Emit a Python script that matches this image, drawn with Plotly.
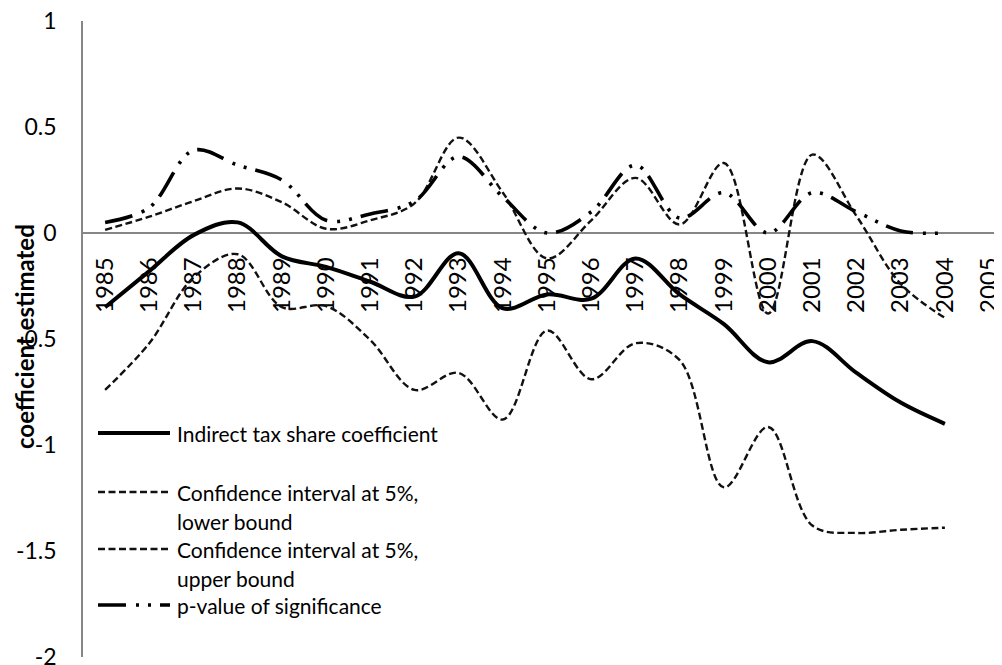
import plotly.graph_objects as go

# ---------------- data ----------------
years = ['1985', '1986', '1987', '1988', '1989', '1990', '1991', '1992', '1993', '1994',
         '1995', '1996', '1997', '1998', '1999', '2000', '2001', '2002', '2003', '2004', '2005']

coef = [-0.35, -0.18, -0.01, 0.05, -0.11, -0.16, -0.23, -0.30, -0.095, -0.355,
        -0.29, -0.31, -0.12, -0.29, -0.43, -0.61, -0.51, -0.66, -0.80, -0.90]

ci_lower = [-0.74, -0.52, -0.21, -0.10, -0.35, -0.345, -0.505, -0.74, -0.66, -0.88,
            -0.46, -0.69, -0.52, -0.60, -1.20, -0.915, -1.38, -1.415, -1.40, -1.39]

ci_upper = [0.015, 0.077, 0.15, 0.21, 0.145, 0.02, 0.06, 0.14, 0.45, 0.19,
            -0.12, 0.06, 0.26, 0.04, 0.33, -0.38, 0.37, 0.08, -0.24, -0.40]

p_value = [0.05, 0.12, 0.39, 0.32, 0.25, 0.06, 0.09, 0.15, 0.36, 0.17,
           0.0, 0.10, 0.32, 0.07, 0.19, 0.0, 0.19, 0.10, 0.01, 0.0]

y_ticks = [1, 0.5, 0, -0.5, -1, -1.5, -2]
y_tick_labels = ['1', '0.5', '0', '-0.5', '-1', '-1.5', '-2']

series_names = ['Indirect tax share coefficient',
                'Confidence interval at 5%,<br>lower bound',
                'Confidence interval at 5%,<br>upper bound',
                'p-value of significance']

# ---------------- layout constants ----------------
OFF = 8                      # browser body margin
W, H = 1002 - OFF, 665 - OFF
L, R, T, B = 83 - OFF, 1002 - OFF, 21 - OFF, 657 - OFF
FONT = 'Lato'
AXIS_GREY = '#868686'
Y_MIN, Y_MAX = -2, 1

def fx(px):  # page pixel -> paper x
    return (px - OFF - L) / (R - L)

def fy(py):  # page pixel -> paper y
    return (B - (py - OFF)) / (B - T)

styles = [
    dict(color='#000000', width=4, dash='solid'),
    dict(color='#111111', width=2.4, dash='7px,3.5px'),
    dict(color='#111111', width=2.4, dash='7px,3.5px'),
    dict(color='#000000', width=3.6, dash='28px,10px,3px,9px,3px,9px'),
]
series = [coef, ci_lower, ci_upper, p_value]

fig = go.Figure()
x_idx = list(range(len(coef)))
for name, vals, st in zip(series_names, series, styles):
    fig.add_trace(go.Scatter(
        x=x_idx, y=vals, mode='lines', name=name.replace('<br>', ' '),
        line=dict(color=st['color'], width=st['width'], dash=st['dash'],
                  shape='spline', smoothing=1),
        showlegend=False, hoverinfo='skip'))

# ---------------- manual legend (inside plot) ----------------
legend_rows = [433, 492, 549, 605]   # page px centre of each sample line
line_gap = 29
shapes = []
annotations = []
for name, st, py in zip(series_names, styles, legend_rows):
    shapes.append(dict(type='line', xref='paper', yref='paper',
                       x0=fx(98), x1=fx(170), y0=fy(py), y1=fy(py),
                       line=dict(color=st['color'], width=st['width'], dash=st['dash'])))
    for k, part in enumerate(name.split('<br>')):
        annotations.append(dict(xref='paper', yref='paper', x=fx(175), y=fy(py + k * line_gap),
                                text=part, showarrow=False, xanchor='left', yanchor='middle',
                                font=dict(family=FONT, size=21, color='#000000')))

# y axis title (overlaps tick labels as in the original)
annotations.append(dict(xref='paper', yref='paper', x=fx(24), y=fy(337),
                        text='<b>coefficient estimated</b>', showarrow=False, textangle=-90,
                        xanchor='center', yanchor='middle', borderpad=0,
                        font=dict(family=FONT, size=24, color='#000000')))

x_max = -0.5 + (R - L) / 44.2

fig.update_layout(
    width=W, height=H,
    margin=dict(l=L, r=W - R, t=T, b=H - B, autoexpand=False),
    paper_bgcolor='white', plot_bgcolor='white',
    font=dict(family=FONT, color='#000000'),
    showlegend=False,
    shapes=shapes,
    annotations=annotations,
    xaxis=dict(
        range=[-0.5, x_max],
        tickmode='array', tickvals=list(range(len(years))), ticktext=years,
        tickangle=-90, tickfont=dict(family=FONT, size=24, color='#000000'),
        anchor='free', position=(0 - Y_MIN) / (Y_MAX - Y_MIN),
        showline=True, linecolor=AXIS_GREY, linewidth=1.5,
        showgrid=False, zeroline=False, ticks='', ticklabelstandoff=14,
        ticklabeloverflow='allow', layer='below traces',
    ),
    yaxis=dict(
        range=[Y_MIN, Y_MAX],
        tickmode='array', tickvals=y_ticks, ticktext=y_tick_labels,
        tickfont=dict(family=FONT, size=23, color='#000000'),
        showline=True, linecolor=AXIS_GREY, linewidth=1.5,
        showgrid=False, zeroline=False, ticks='', ticklabelstandoff=20,
        ticklabeloverflow='allow',
    ),
)

fig.write_html('out.html')
